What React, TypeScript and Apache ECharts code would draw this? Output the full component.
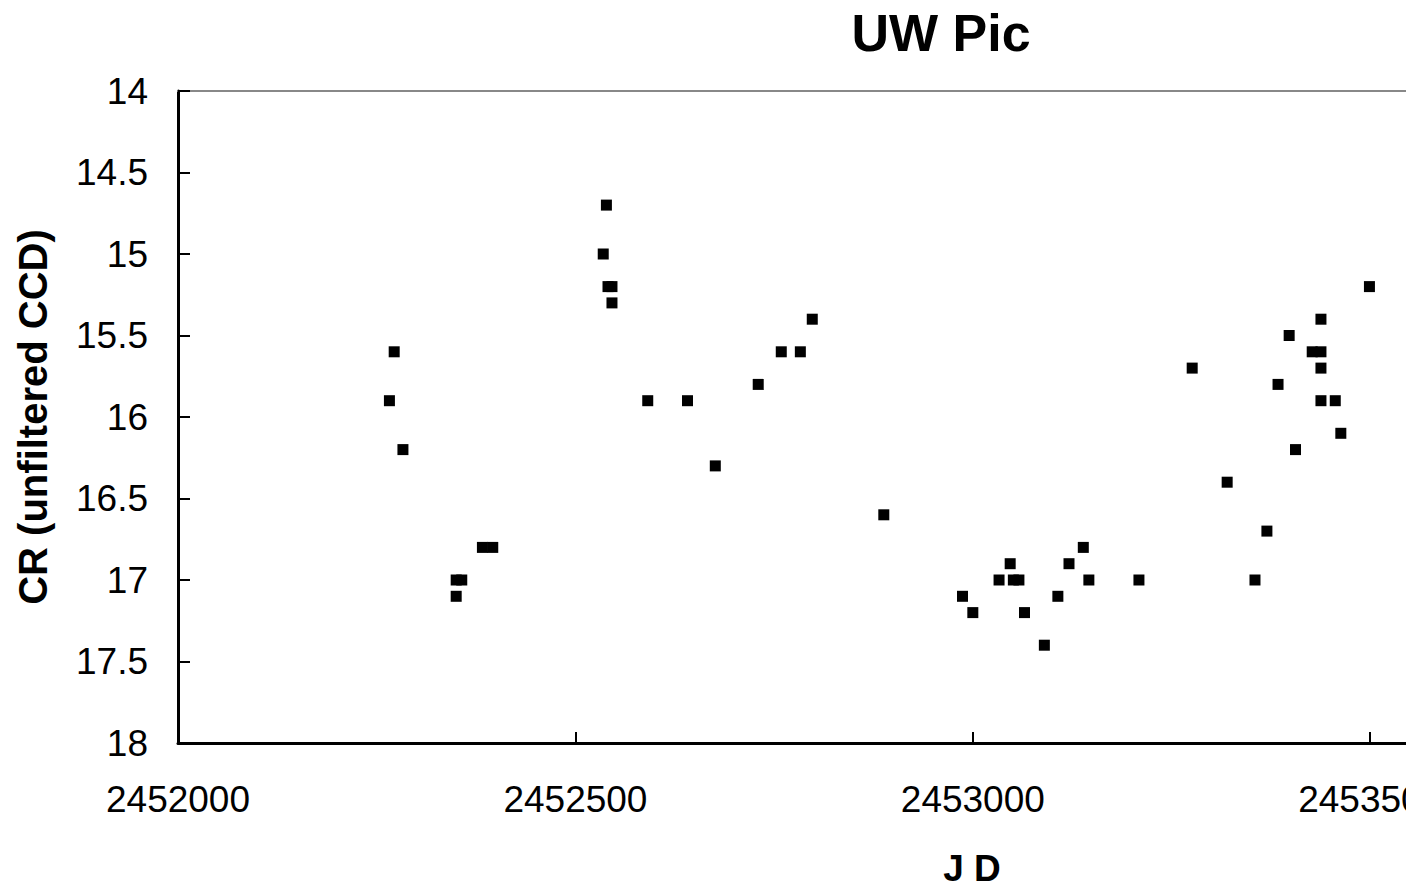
import React, { useEffect, useRef } from "react";
import * as echarts from "echarts";

const titleText = "UW Pic";
const xName = "J D";
const yName = "CR (unfiltered CCD)";

const jd: number[] = [
  2452272, 2452266, 2452283, 2452350, 2452350, 2452357, 2452383, 2452396,
  2452539, 2452535, 2452541, 2452546, 2452546, 2452591, 2452641, 2452676,
  2452730, 2452759, 2452783, 2452798, 2452888, 2452987, 2453000, 2453033,
  2453047, 2453051, 2453058, 2453065, 2453090, 2453107, 2453121, 2453139,
  2453146, 2453209, 2453276, 2453320, 2453355, 2453370, 2453384, 2453398,
  2453406, 2453427, 2453438, 2453438, 2453438, 2453438, 2453456, 2453463,
  2453499,
];
const cr: number[] = [
  15.6, 15.9, 16.2, 17.1, 17.0, 17.0, 16.8, 16.8,
  14.7, 15.0, 15.2, 15.2, 15.3, 15.9, 15.9, 16.3,
  15.8, 15.6, 15.6, 15.4, 16.6, 17.1, 17.2, 17.0,
  16.9, 17.0, 17.0, 17.2, 17.4, 17.1, 16.9, 16.8,
  17.0, 17.0, 15.7, 16.4, 17.0, 16.7, 15.8, 15.5,
  16.2, 15.6, 15.6, 15.4, 15.7, 15.9, 15.9, 16.1,
  15.2,
];

const FONT = "'Liberation Sans', Arial, sans-serif";

export default function App() {
  const ref = useRef<HTMLDivElement>(null);
  useEffect(() => {
    if (!ref.current) return;
    const chart = echarts.init(ref.current, null, { renderer: "svg" });
    const points = jd.map((x, i) => [x, cr[i]]);
    chart.setOption({
      animation: false,
      backgroundColor: "#ffffff",
      textStyle: { fontFamily: FONT },
      title: {
        text: titleText,
        left: 936,
        top: 2,
        textAlign: "center",
        textStyle: { fontFamily: FONT, fontSize: 52, fontWeight: "bold", color: "#000" },
      },
      graphic: [
        {
          type: "text",
          x: 972,
          y: 868,
          style: {
            text: xName,
            fontFamily: FONT,
            fontSize: 37,
            fontWeight: "bold",
            fill: "#000",
            align: "center",
            verticalAlign: "middle",
          },
        },
      ],
      grid: { left: 178, top: 91, right: 0, bottom: 147, containLabel: false, outerBoundsMode: "none" },
      xAxis: [
        {
          type: "value",
          min: 2452000,
          max: 2453545,
          interval: 500,
          position: "bottom",
          axisLine: { show: true, lineStyle: { color: "#000", width: 3 } },
          axisTick: { show: true, inside: true, length: 11, lineStyle: { color: "#000", width: 2 } },
          axisLabel: {
            show: true,
            margin: 38,
            fontFamily: FONT,
            fontSize: 37,
            color: "#000",
            showMaxLabel: false,
            hideOverlap: false,
            formatter: (v: number) => String(v),
          },
          splitLine: { show: false },
        },
        {
          type: "value",
          min: 2452000,
          max: 2453545,
          position: "top",
          axisLine: { show: true, lineStyle: { color: "#888", width: 2 } },
          axisTick: { show: false },
          axisLabel: { show: false },
          splitLine: { show: false },
        },
      ],
      yAxis: {
        type: "value",
        inverse: true,
        min: 14,
        max: 18,
        interval: 0.5,
        name: yName,
        nameLocation: "middle",
        nameRotate: 90,
        nameGap: 125,
        nameTextStyle: { fontFamily: FONT, fontSize: 40, fontWeight: "bold", color: "#000" },
        axisLine: { show: true, lineStyle: { color: "#000", width: 3 } },
        axisTick: { show: true, inside: true, length: 12, lineStyle: { color: "#000", width: 2 } },
        axisLabel: { margin: 30, fontFamily: FONT, fontSize: 37, color: "#000" },
        splitLine: { show: false },
      },
      series: [
        {
          type: "scatter",
          xAxisIndex: 0,
          data: points,
          symbol: "rect",
          symbolSize: 11,
          itemStyle: { color: "#000", opacity: 1 },
        },
      ],
    });
    return () => chart.dispose();
  }, []);
  return (
    <div style={{ position: "fixed", left: 0, top: 0, width: 1406, height: 890, overflow: "hidden", background: "#fff" }}>
      <div ref={ref} style={{ width: 1406, height: 890 }} />
    </div>
  );
}
